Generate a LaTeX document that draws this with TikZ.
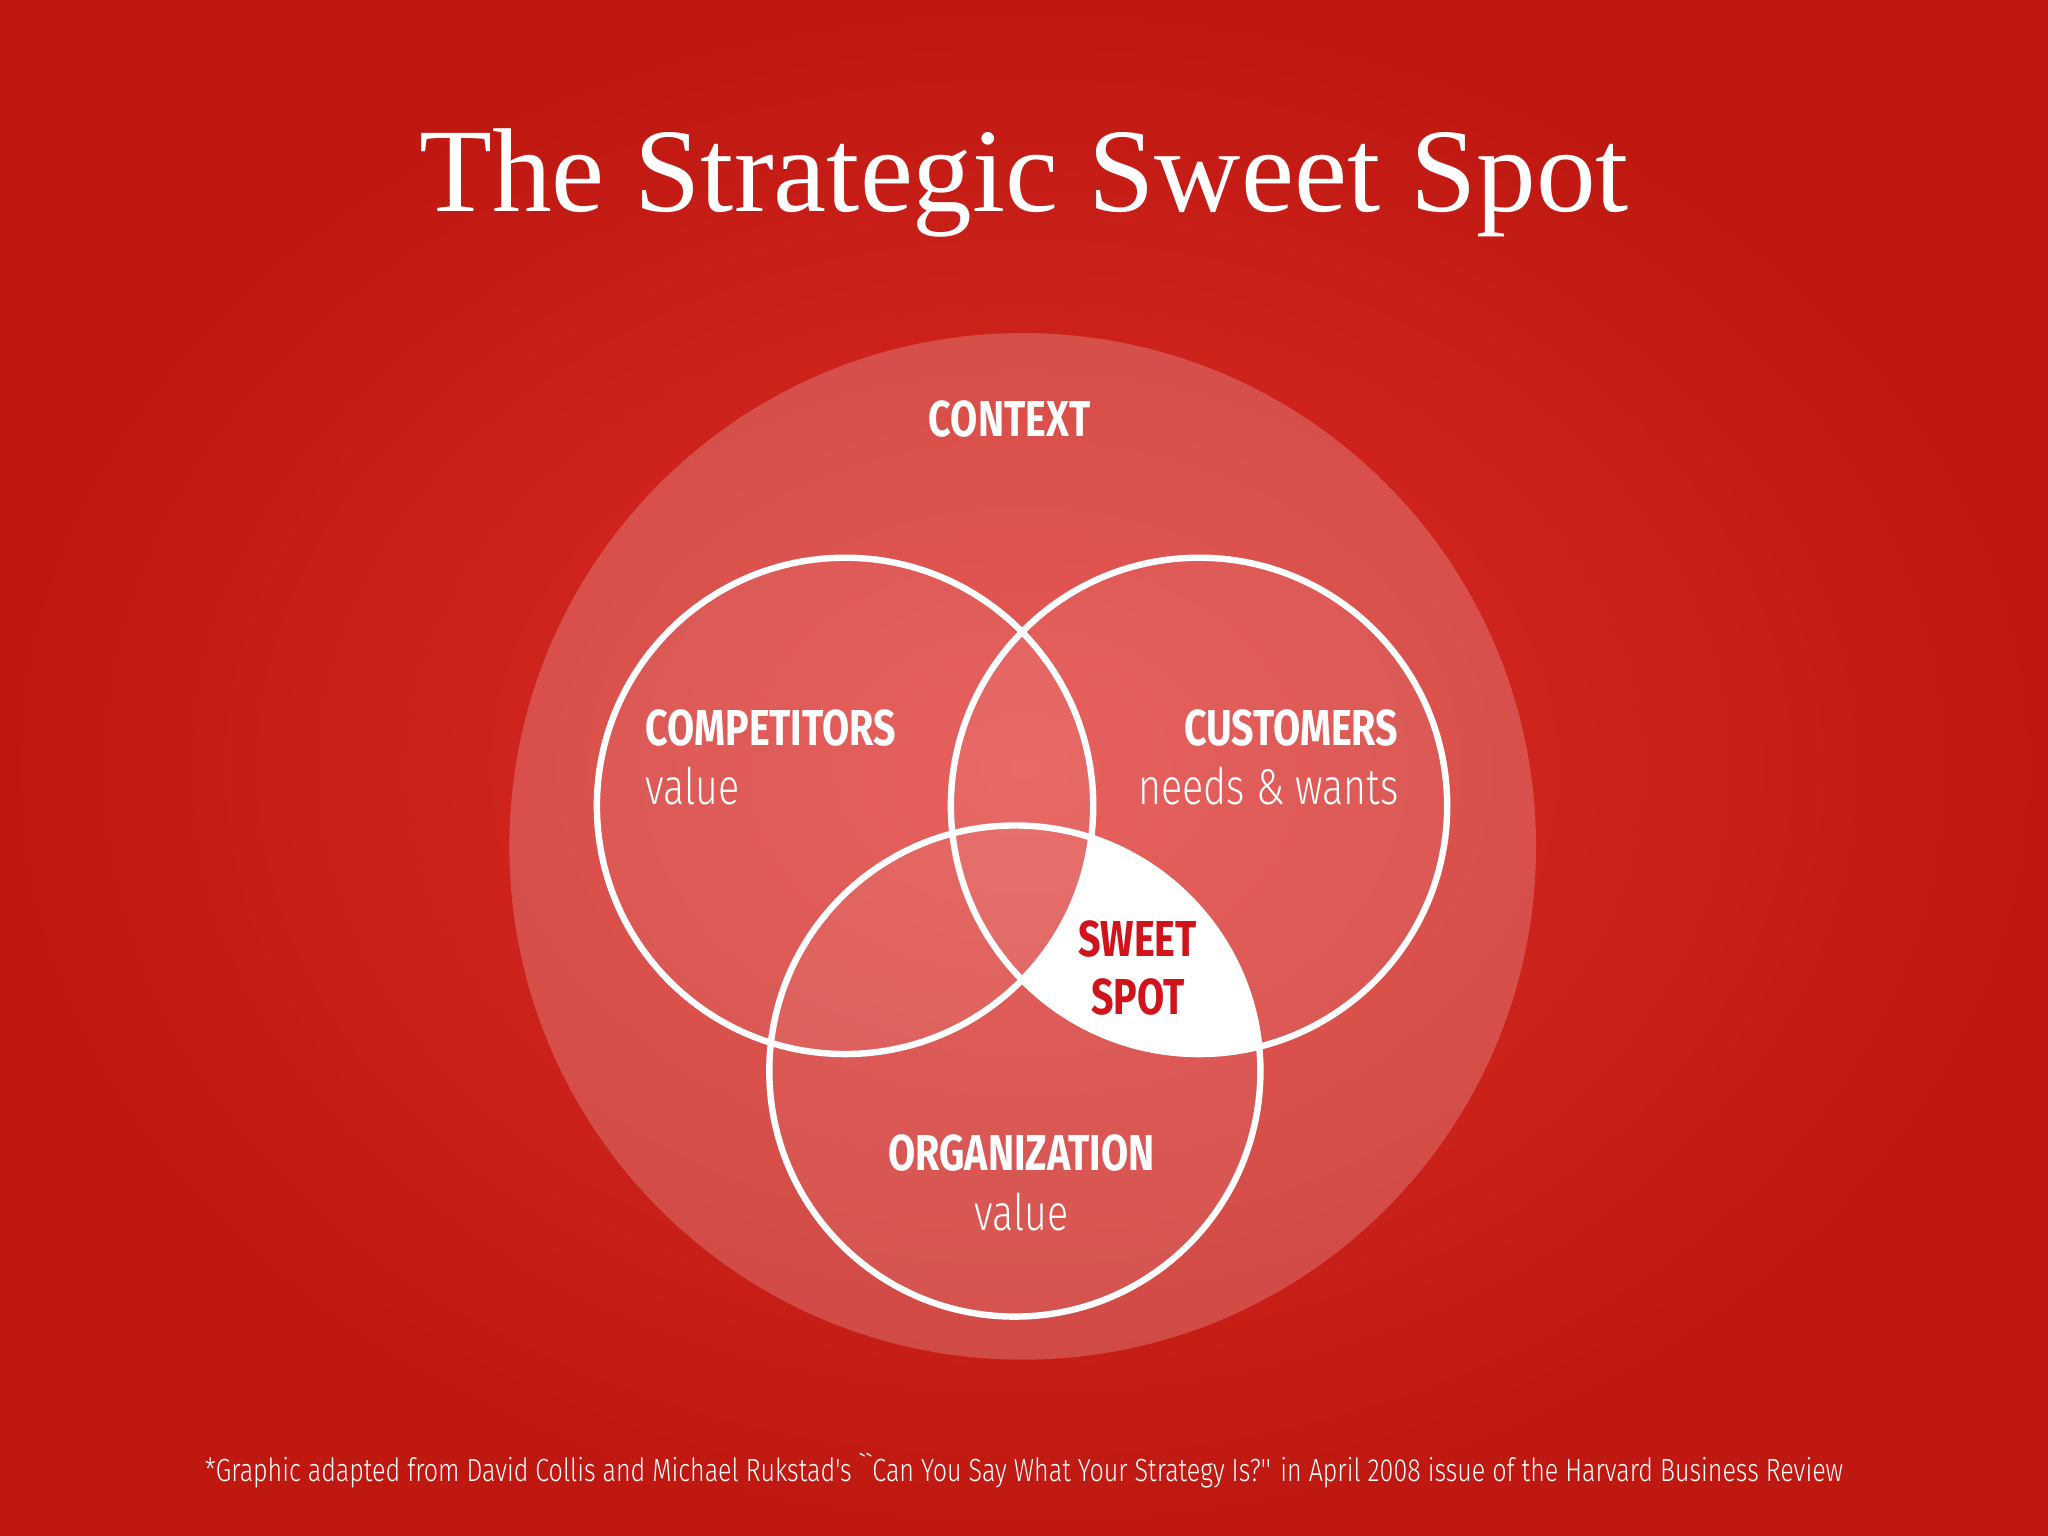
\documentclass[tikz,border=0pt]{standalone}
\usepackage{fontspec}
\setmainfont{Liberation Serif}
\newfontfamily\cond[FakeStretch=0.78]{Fira Sans}
\newfontfamily\condlight[FakeStretch=0.78]{Fira Sans Light}
\usetikzlibrary{shadings}
\definecolor{bgin}{HTML}{E0302C}
\definecolor{bgout}{HTML}{BE1810}
\definecolor{ssred}{HTML}{D0141C}
\begin{document}
\begin{tikzpicture}[x=0.02cm,y=-0.02cm,
  ring/.style={draw=white,line width=2.8pt,fill=white,fill opacity=0.05},
  lab/.style={text=white,font=\cond\bfseries\fontsize{22}{24}\selectfont,inner sep=0pt},
  sub/.style={text=white,font=\condlight\fontsize{22}{24}\selectfont,inner sep=0pt}]
\useasboundingbox (0,0) rectangle (1568,1176);
\shade[inner color=bgin,outer color=bgout] (0,0) rectangle (1568,1176);
\fill[white,opacity=0.2] (783,648) circle (393) coordinate (ctx);
\node[text=white,font=\fontsize{52}{56}\selectfont,inner sep=0pt] (title) at (784,140) {The Strategic Sweet Spot};
% sweet spot
\begin{scope}
\clip (918,617) circle (190);
\clip (777,820) circle (188);
\fill[white,even odd rule] (500,500) rectangle (1100,1100) (647,617) circle (190);
\end{scope}
\draw[ring] (647,617) circle (190) coordinate (comp);
\draw[ring] (918,617) circle (190) coordinate (cust);
\draw[ring] (777,820) circle (188) coordinate (org);
\node[lab] (tctx) at (773,321) {CONTEXT};
\node[lab,anchor=west] (tcomp) at (494,557) {COMPETITORS};
\node[sub,anchor=west] (tcompv) at (494,602) {value};
\node[lab,anchor=east] (tcust) at (1071,557) {CUSTOMERS};
\node[sub,anchor=east] (tcustv) at (1071,602) {needs \& wants};
\node[lab,text=ssred,align=center,font=\cond\bfseries\fontsize{22}{25}\selectfont] (tss) at (871,741) {SWEET\\SPOT};
\node[lab] (torg) at (782,883) {ORGANIZATION};
\node[sub] (torgv) at (782,928) {value};
\node[text=white,font=\condlight\fontsize{14}{16}\selectfont,inner sep=0pt] (foot) at (784,1126) {*Graphic adapted from David Collis and Michael Rukstad's ``Can You Say What Your Strategy Is?'' in April 2008 issue of the Harvard Business Review};
\end{tikzpicture}
\end{document}
